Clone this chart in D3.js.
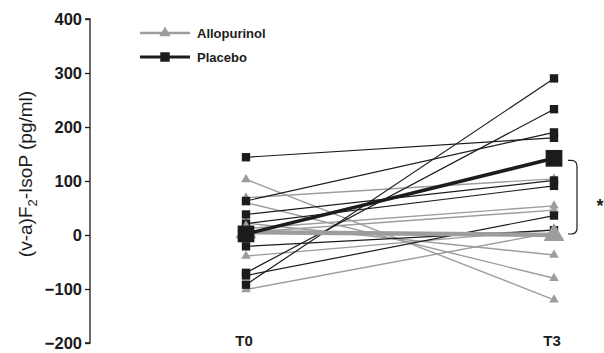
<!DOCTYPE html>
<html><head><meta charset="utf-8">
<script src="https://cdn.jsdelivr.net/npm/d3@7"></script>
<style>body{margin:0;background:#fff}svg{display:block}</style>
</head><body>
<svg id="c" width="604" height="353"></svg>
<script>
const timepoints = ["T0", "T3"];
const yTicks = [-200, -100, 0, 100, 200, 300, 400];
const placeboT0 = [144, 63, 38, 21, -21, -70, -75, -92];
const placeboT3 = [180, 190, 101, 91, 9, 233, 36, 290];
const alloT0 = [103, 69, 60, 22, 12, 5, -39, -101];
const alloT3 = [-120, 104, -80, -37, 54, 46, 10, 5];
const placeboMean = [2, 142];
const alloMean = [5, 0];
const legendLabels = ["Allopurinol", "Placebo"];

const BLACK = "#1c1c1c", GRAY = "#9d9d9d";
const FONT = "Liberation Sans, Arial, sans-serif";
const svg = d3.select("#c");
const x = d3.scalePoint().domain(timepoints).range([246, 554]);
const y = d3.scaleLinear().domain([-200, 400]).range([343, 19]);

// axis
const ax = svg.append("g").attr("transform", "translate(90,0)")
  .call(d3.axisLeft(y).tickValues(yTicks).tickSize(5).tickPadding(3));
ax.select(".domain").attr("stroke", BLACK).attr("stroke-width", 1.3).attr("d", `M-5,${y(400)}H0V${y(-200)}H-5`);
ax.selectAll(".tick line").attr("stroke", BLACK).attr("stroke-width", 1.3);
ax.selectAll(".tick text").attr("font-family", FONT)
  .attr("font-size", 16.5).attr("font-weight", "bold").attr("fill", BLACK);

// y label
const yl = svg.append("text").attr("transform", "translate(32,174) rotate(-90)")
  .attr("text-anchor", "middle").attr("font-family", FONT)
  .attr("font-size", 19).attr("fill", BLACK);
yl.append("tspan").text("(v-a)F");
yl.append("tspan").attr("font-size", 13).attr("dy", 5).text("2");
yl.append("tspan").attr("dy", -5).text("-IsoP (pg/ml)");

// x labels
svg.selectAll(".xl").data(timepoints).join("text")
  .attr("x", d => x(d) - 2).attr("y", 346).attr("text-anchor", "middle")
  .attr("font-family", FONT).attr("font-size", 15)
  .attr("font-weight", "bold").attr("fill", BLACK).text(d => d);

const line = d3.line().x((d, i) => x(timepoints[i])).y(d => y(d));
const pairs = (a, b) => a.map((v, i) => [v, b[i]]);
const tri = d3.symbol().type(d3.symbolTriangle);
const sq = d3.symbol().type(d3.symbolSquare);

function drawLines(data, color, w) {
  svg.append("g").selectAll("path").data(data).join("path")
    .attr("d", line).attr("fill", "none").attr("stroke", color).attr("stroke-width", w);
}
drawLines(pairs(alloT0, alloT3), GRAY, 1.4);
drawLines(pairs(placeboT0, placeboT3), BLACK, 1.2);
drawLines([alloMean], GRAY, 4.5);
drawLines([placeboMean], BLACK, 3.5);

function drawMarkers(vals, t, sym, size, color) {
  svg.append("g").selectAll("path").data(vals).join("path")
    .attr("transform", d => `translate(${x(t)},${y(d)})`)
    .attr("d", sym.size(size)()).attr("fill", color);
}
drawMarkers(alloT0, "T0", tri, 40, GRAY);
drawMarkers(alloT3, "T3", tri, 40, GRAY);
drawMarkers(placeboT0, "T0", sq, 70, BLACK);
drawMarkers(placeboT3, "T3", sq, 70, BLACK);
drawMarkers([alloMean[0]], "T0", tri, 190, GRAY);
drawMarkers([placeboMean[0]], "T0", sq, 280, BLACK);
drawMarkers([placeboMean[1]], "T3", sq, 280, BLACK);
drawMarkers([alloMean[1]], "T3", tri, 190, GRAY);

// legend
const lg = svg.append("g");
legendLabels.forEach((lab, i) => {
  const yy = 33 + i * 24, col = i === 0 ? GRAY : BLACK;
  lg.append("line").attr("x1", 140).attr("x2", 190).attr("y1", yy).attr("y2", yy)
    .attr("stroke", col).attr("stroke-width", i === 0 ? 2.5 : 3);
  lg.append("path").attr("transform", `translate(165,${yy})`)
    .attr("d", (i === 0 ? tri.size(55) : sq.size(90))()).attr("fill", col);
  lg.append("text").attr("x", 197).attr("y", yy + 5).attr("font-family", FONT)
    .attr("font-size", 13).attr("font-weight", "bold").attr("fill", BLACK).text(lab);
});

// bracket
const bt = y(placeboMean[1]) + 2, bb = y(alloMean[1]) - 1, bx = 568, bw = 9, r = 6;
svg.append("path").attr("d", `M${bx},${bt}H${bx+bw-r}Q${bx+bw},${bt} ${bx+bw},${bt+r}V${bb-r}Q${bx+bw},${bb} ${bx+bw-r},${bb}H${bx}`)
  .attr("fill", "none").attr("stroke", BLACK).attr("stroke-width", 1.2);
svg.append("text").attr("x", 600).attr("y", 212).attr("text-anchor", "middle")
  .attr("font-family", FONT).attr("font-size", 18)
  .attr("font-weight", "bold").attr("fill", BLACK).text("*");
</script>
</body></html>
